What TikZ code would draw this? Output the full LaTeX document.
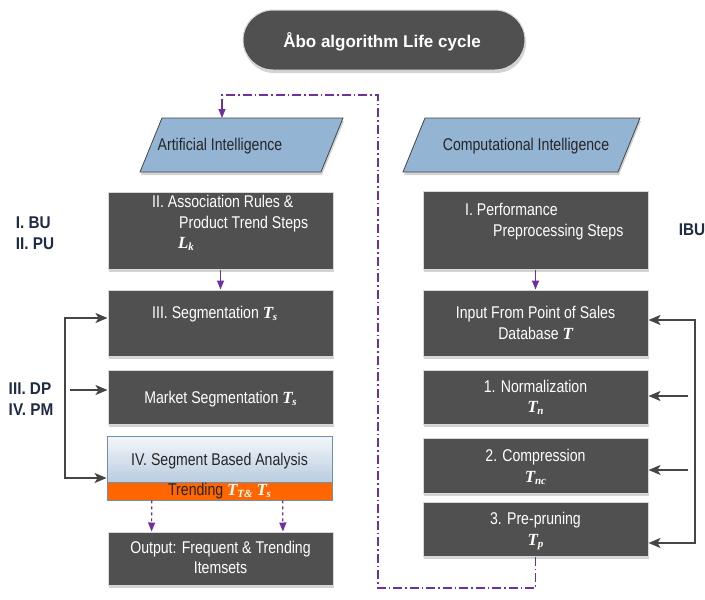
\documentclass[tikz,border=0pt]{standalone}
\usepackage{fontspec}
\setmainfont{Liberation Sans}[FakeStretch=0.83]
\newfontfamily\titlefont{Liberation Sans}
\newfontfamily\labfont{Liberation Sans}[FakeStretch=0.9]
\newfontfamily\symfont{Liberation Serif}
\usetikzlibrary{arrows.meta,shadows,calc}
\newcommand\sym[2]{{\symfont\bfseries\itshape #1\kern-0.3pt\raisebox{-0.3ex}{\fontsize{11}{11}\selectfont #2}}}
\definecolor{boxgray}{HTML}{505050}
\definecolor{edgegray}{HTML}{D8D8D8}
\definecolor{paraBlue}{HTML}{93B4D3}
\definecolor{purp}{HTML}{7030A0}
\definecolor{arrgray}{HTML}{454545}
\definecolor{labnavy}{HTML}{1F2A44}
\definecolor{orng}{HTML}{FF6600}
\definecolor{ivedge}{HTML}{6F8FAF}
\definecolor{ivtop}{HTML}{F4F7FA}
\definecolor{ivbot}{HTML}{B9CCE0}
\tikzset{
  gtip/.tip={Stealth[length=12pt,width=10pt,inset=3pt]},
  darkbox/.style={draw=edgegray, line width=1pt, fill=boxgray, minimum width=225pt, inner sep=0pt,
     drop shadow={opacity=0.35, shadow xshift=1pt, shadow yshift=-3pt}},
  para/.style={draw=arrgray, line width=0.8pt, fill=paraBlue,
     drop shadow={opacity=0.35, shadow xshift=1pt, shadow yshift=-3pt}},
  wtxt/.style={text=white, font=\fontsize{17}{20}\selectfont, inner sep=0pt},
  ktxt/.style={text=black!85, font=\fontsize{17}{20}\selectfont, inner sep=0pt},
  lab/.style={text=labnavy, font=\labfont\bfseries\fontsize{17}{21}\selectfont, align=left, inner sep=0pt},
  parrow/.style={draw=purp, line width=1.2pt, -{Triangle[length=9pt,width=7pt]}},
  pdash/.style={draw=purp, line width=1.2pt, dash pattern=on 9pt off 3pt on 1.5pt off 3pt},
  garrow/.style={draw=arrgray, line width=1.6pt}
}
\begin{document}
\begin{tikzpicture}[x=1pt,y=-1pt]
\useasboundingbox (0,0) rectangle (705,600);
% title
\node[fill=boxgray, draw=edgegray, line width=1pt, rounded corners=30pt, minimum width=282pt, minimum height=60pt,
      drop shadow={opacity=0.35, shadow xshift=1pt, shadow yshift=-3pt}] (title) at (384,40) {};
\node[anchor=base, text=white, font=\titlefont\bfseries\fontsize{17}{20}\selectfont, inner sep=0pt] (titletxt) at (382,47) {Åbo algorithm Life cycle};

% parallelograms
\draw[para] (140,172) -- (162,118) -- (343,118) -- (321,172) -- cycle;
\node[ktxt, anchor=base] (AI) at (220,150) {Artificial Intelligence};
\coordinate (AItop) at (222,118);
\draw[para] (403,172) -- (425,118) -- (640,118) -- (618,172) -- cycle;
\node[ktxt, anchor=base] (CI) at (526,150) {Computational Intelligence};

% left column
\node[darkbox, minimum height=77pt] (II) at (220.5,230.5) {};
\node[wtxt, anchor=base west] (IIa) at (152,207) {II. Association Rules \&};
\node[wtxt, anchor=base west] (IIb) at (179,228) {Product Trend Steps};
\node[wtxt, anchor=base west] (IIc) at (178,248) {\sym{L}{k}};

\node[darkbox, minimum height=66pt] (III) at (220.5,323) {};
\node[wtxt, anchor=base west] (IIIa) at (152,318) {III. Segmentation \sym{T}{s}};

\node[darkbox, minimum height=54pt] (MS) at (220.5,397) {};
\node[wtxt, anchor=base] (MSa) at (220.5,403) {Market Segmentation \sym{T}{s}};

\node[draw=ivedge, line width=0.8pt, top color=ivtop, bottom color=ivbot,
      minimum width=225pt, minimum height=46pt, inner sep=0pt] (IVa) at (219.5,459) {};
\node[draw=ivedge, line width=0.8pt, fill=orng, minimum width=225pt, minimum height=18pt, inner sep=0pt] (IVb) at (219.5,491) {};
\node[ktxt, anchor=base] (IVt) at (219.5,465) {IV. Segment Based Analysis};
\node[ktxt, anchor=base] (IVu) at (219.5,495) {Trending {\color{white}\sym{T}{T\&} \sym{T}{s}}};

\node[darkbox, minimum height=53pt] (Out) at (220.5,558.5) {};
\node[wtxt, anchor=base] (Outa) at (220.5,553) {Output: Frequent \& Trending};
\node[wtxt, anchor=base] (Outb) at (220.5,573) {Itemsets};

% right column
\node[darkbox, minimum height=78pt] (I) at (535.5,230) {};
\node[wtxt, anchor=base west] (Ia) at (465,215) {I. Performance};
\node[wtxt, anchor=base west] (Ib) at (493,236) {Preprocessing Steps};

\node[darkbox, minimum height=66pt] (In) at (535.5,323) {};
\node[wtxt, anchor=base] (Ina) at (535.5,318) {Input From Point of Sales};
\node[wtxt, anchor=base] (Inb) at (535.5,339) {Database \sym{T}{}};

\node[darkbox, minimum height=54pt] (N) at (535.5,397) {};
\node[wtxt, anchor=base] (Na) at (535.5,392) {1. Normalization};
\node[wtxt, anchor=base] (Nb) at (535.5,412) {\sym{T}{n}};

\node[darkbox, minimum height=55pt] (C) at (535.5,465.5) {};
\node[wtxt, anchor=base] (Ca) at (535.5,461) {2. Compression};
\node[wtxt, anchor=base] (Cb) at (535.5,482) {\sym{T}{nc}};

\node[darkbox, minimum height=54pt] (P) at (535.5,529) {};
\node[wtxt, anchor=base] (Pa) at (535.5,524) {3. Pre-pruning};
\node[wtxt, anchor=base] (Pb) at (535.5,545) {\sym{T}{p}};

% side labels
\node[lab] (lab1) at (35,233) {I. BU\\II. PU};
\node[lab] (lab2) at (31,399) {III. DP\\IV. PM};
\node[lab] (lab3) at (692,230) {IBU};

% purple arrows
\draw[parrow] (II.south) -- (III.north);
\draw[parrow] (I.south) -- (In.north);
\draw[parrow, dashed] ($(IVb.south west)!0.2!(IVb.south east)$) -- ($(Out.north west)!0.195!(Out.north east)$);
\draw[parrow, dashed] ($(IVb.south west)!0.78!(IVb.south east)$) -- ($(Out.north west)!0.776!(Out.north east)$);

% dash-dot loop
\coordinate (D1) at (378,588);
\coordinate (D2) at (378,95);
\draw[pdash] (P.south) |- (D1) -- (D2) -| ($(AItop)+(0,-8)$);
\draw[parrow] ($(AItop)+(0,-10)$) -- (AItop);

% gray feedback lines
\coordinate (L1) at (65,318);
\coordinate (L2) at (65,478);
\coordinate (L3) at (70,390);
\draw[garrow, gtip-gtip] (L1 -| III.west) -- (L1) -- (L2) -- (L2 -| IVa.west);
\draw[garrow, -gtip] (L3) -- (L3 -| MS.west);

\coordinate (R1) at (695,320);
\coordinate (R2) at (695,543);
\coordinate (R3) at (688,396);
\coordinate (R4) at (688,470);
\draw[garrow, gtip-gtip] (R1 -| In.east) -- (R1) -- (R2) -- (R2 -| P.east);
\draw[garrow, -gtip] (R3) -- (R3 -| N.east);
\draw[garrow, -gtip] (R4) -- (R4 -| C.east);
\end{tikzpicture}
\end{document}
